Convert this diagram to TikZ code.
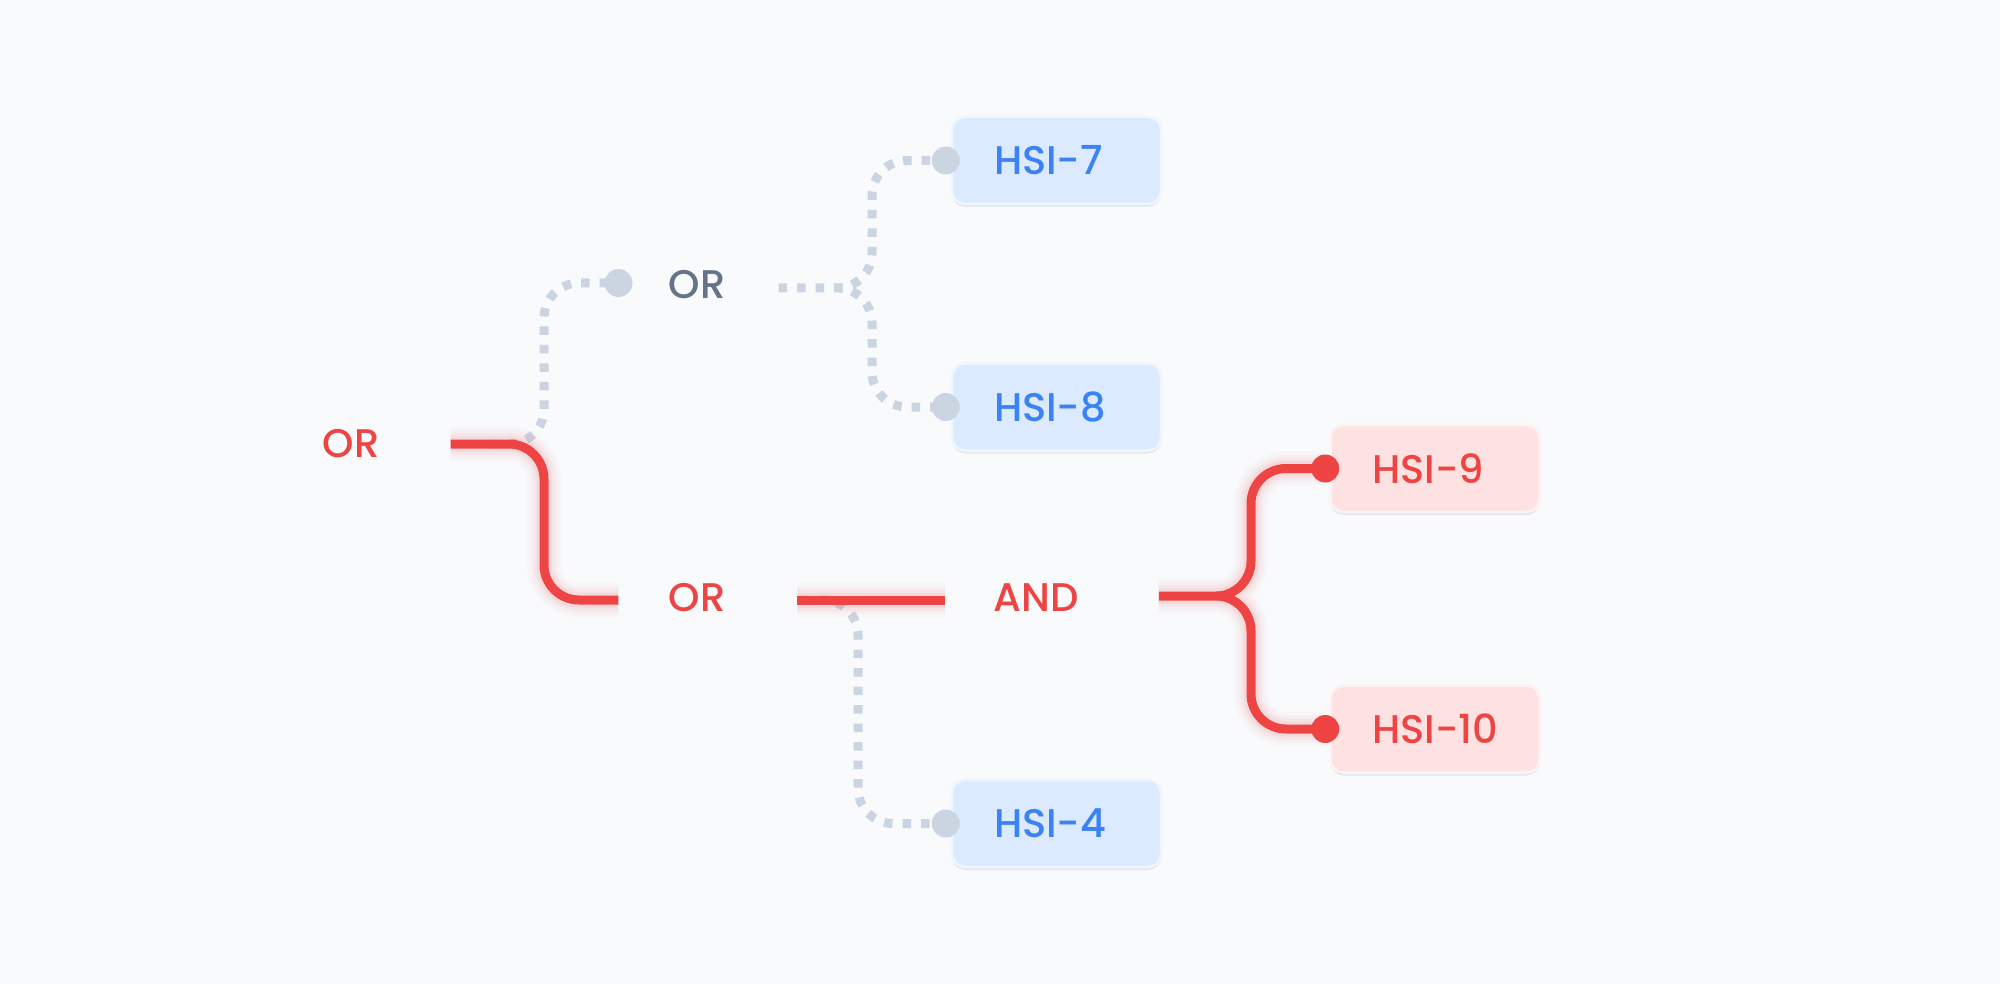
\documentclass[tikz,border=0pt]{standalone}
\usepackage{fontspec}
\setmainfont{Poppins}[UprightFont={* Medium}]
\usetikzlibrary{calc}
\definecolor{bg}{HTML}{F8FAFC}
\definecolor{redc}{HTML}{EF4444}
\definecolor{grayline}{HTML}{CBD5E1}
\definecolor{graytext}{HTML}{64748B}
\definecolor{bluetext}{HTML}{3B82F6}
\definecolor{bluefill}{HTML}{DBEAFE}
\definecolor{redfill}{HTML}{FEE2E2}
\definecolor{blueedge}{HTML}{EFF6FF}
\definecolor{rededge}{HTML}{FEF2F2}
\definecolor{shadowc}{HTML}{E2E8F0}
\begin{document}
\begin{tikzpicture}[x=1pt,y=-1pt,
  lbl/.style={font=\fontsize{40}{40}\selectfont, inner sep=0pt, anchor=center},
  hbox/.style={lbl, rounded corners=13pt, minimum height=87pt, text width=125pt,
    inner xsep=42pt, inner ysep=0pt, align=left,
    preaction={fill=shadowc, transform canvas={yshift=-3pt}}},
  bluebox/.style={hbox, fill=bluefill, draw=blueedge, line width=2.5pt, text=bluetext},
  redbox/.style={hbox, fill=redfill, draw=rededge, line width=2.5pt, text=redc},
  dotted path/.style={draw=grayline, line width=9pt, dash pattern=on 8.5pt off 10pt, rounded corners=35pt},
  red path/.style={draw=redc, line width=9pt, rounded corners=35pt,
    preaction={draw=redc, opacity=0.025, line width=34pt},
    preaction={draw=redc, opacity=0.035, line width=27pt},
    preaction={draw=redc, opacity=0.05, line width=21pt},
    preaction={draw=redc, opacity=0.07, line width=15pt}},
  gdot/.style={fill=grayline},
  rdot/.style={fill=redc}
]
\useasboundingbox (0,0) rectangle (2000,984);
\fill[bg] (0,0) rectangle (2000,984);

% boxes
\node[bluebox] (h7) at (1056.5,160.5) {\mbox{HSI-7}};
\node[bluebox] (h8) at (1056.5,407) {\mbox{HSI-8}};
\node[bluebox] (h4) at (1056.5,823.5) {\mbox{HSI-4}};
\node[redbox] (h9) at (1435,468.5) {\mbox{HSI-9}};
\node[redbox] (h10) at (1435,729) {\mbox{HSI-10}};

% labels
\node[lbl, text=redc] (or1) at (351,444) {OR};
\node[lbl, text=graytext] (or2) at (697,285) {OR};
\node[lbl, text=redc] (or3) at (697,598) {OR};
\node[lbl, text=redc] (and1) at (1036,598) {AND};

% free ends / junctions
\coordinate (r1s) at ($(or1.east)+(71,0)$);
\coordinate (r1e) at ($(or3.west)+(-50,2)$);
\coordinate (r2s) at ($(or3.east)+(71,2)$);
\coordinate (r2e) at ($(and1.west)+(-48,2)$);
\coordinate (r3s) at ($(and1.east)+(80,-2)$);
\coordinate (g1e) at ($(or2.west)+(-50,-2)$);
\coordinate (g2s) at ($(or2.east)+(53,3)$);
\coordinate (p7) at ($(h7.west)+(-5,0)$);
\coordinate (p8) at ($(h8.west)+(-5,0)$);
\coordinate (p4) at ($(h4.west)+(-5,0)$);
\coordinate (p9) at ($(h9.west)+(-4,0)$);
\coordinate (p10) at ($(h10.west)+(-4,0)$);

% gray dotted connectors
\path[dotted path] (490,444) -- (544,444) -- (544,283) -- (g1e);
\path[dotted path] (g2s) -- (872,288) -- (872,160.5) -- (p7)
                   (g2s) -- (872,288) -- (872,407) -- (p8);
\path[dotted path] (800,600) -- (858,600) -- (858,823.5) -- (p4);

% red connectors
\path[red path] (r1s) -- (544,444) -- (544,600) -- (r1e);
\path[red path] (r2s) -- (r2e);
\path[red path] (r3s) -- (1251,596) -- (1251,468.5) -- (p9)
                (r3s) -- (1251,596) -- (1251,729) -- (p10);

% dots
\fill[gdot] (g1e) circle (14pt);
\fill[gdot] (p7) circle (14pt);
\fill[gdot] (p8) circle (14pt);
\fill[gdot] (p4) circle (14pt);
\fill[rdot] (p9) circle (14pt);
\fill[rdot] (p10) circle (14pt);
\end{tikzpicture}
\end{document}
